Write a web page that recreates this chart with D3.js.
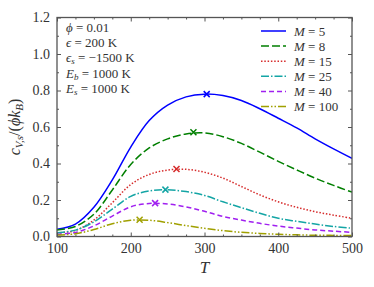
<!DOCTYPE html>
<html>
<head>
<meta charset="utf-8">
<script src="https://cdn.jsdelivr.net/npm/d3@7"></script>
<style>
  body { margin: 0; background: #fff; }
</style>
</head>
<body>
<div id="chart"></div>
<script>
// temperatures where curves were read
var temps = [100, 125, 150, 175, 200, 225, 250, 275, 300, 325, 350, 375, 400, 425, 450, 475, 500];

// heat capacity per chain length M
var m5   = [0.04, 0.068, 0.16, 0.31, 0.49, 0.635, 0.72, 0.765, 0.78, 0.772, 0.745, 0.70, 0.648, 0.595, 0.535, 0.48, 0.428];
var m8   = [0.035, 0.055, 0.122, 0.255, 0.395, 0.485, 0.535, 0.562, 0.568, 0.547, 0.51, 0.462, 0.412, 0.365, 0.32, 0.28, 0.243];
var m15  = [0.02, 0.033, 0.09, 0.185, 0.285, 0.34, 0.364, 0.368, 0.352, 0.32, 0.274, 0.228, 0.19, 0.16, 0.136, 0.117, 0.10];
var m25  = [0.02, 0.035, 0.08, 0.15, 0.22, 0.25, 0.256, 0.246, 0.225, 0.19, 0.158, 0.127, 0.10, 0.083, 0.068, 0.055, 0.045];
var m40  = [0.012, 0.022, 0.058, 0.112, 0.163, 0.181, 0.178, 0.162, 0.138, 0.11, 0.09, 0.072, 0.057, 0.046, 0.036, 0.029, 0.023];
var m100 = [0.008, 0.015, 0.038, 0.07, 0.089, 0.089, 0.076, 0.06, 0.045, 0.032, 0.023, 0.017, 0.012, 0.009, 0.007, 0.006, 0.005];

// maxima marked with x
var peakT = [303, 285, 262, 247, 233, 212];
var peakV = [0.78, 0.571, 0.37, 0.257, 0.183, 0.092];

var labels = ["5", "8", "15", "25", "40", "100"];
var xTicks = [100, 200, 300, 400, 500];
var yTicks = [0.0, 0.2, 0.4, 0.6, 0.8, 1.0, 1.2];

var colors = ["#0000ff", "#007f00", "#d62b2b", "#14a5a5", "#a020f0", "#a0a000"];
var dashes = ["none", "8,3", "1.5,1.8", "8,2,1.5,2", "5,3", "8,2,1.5,2,1.5,2"];

var series = [m5, m8, m15, m25, m40, m100];

var serif = "'Liberation Serif', 'DejaVu Serif', serif";

var width = 374, height = 287;
var margin = {top: 17.5, right: 22, bottom: 50.5, left: 57};

var svg = d3.select("#chart").append("svg")
  .attr("width", width)
  .attr("height", height)
  .style("font-family", serif);

var x = d3.scaleLinear().domain([100, 500]).range([margin.left, width - margin.right]);
var y = d3.scaleLinear().domain([0, 1.2]).range([height - margin.bottom, margin.top]);

svg.append("defs").append("clipPath").attr("id", "clip")
  .append("rect")
  .attr("x", x(100)).attr("y", y(1.2))
  .attr("width", x(500) - x(100)).attr("height", y(0) - y(1.2));

var plot = svg.append("g");

var line = d3.line()
  .x(function(d) { return x(d[0]); })
  .y(function(d) { return y(d[1]); })
  .curve(d3.curveCatmullRom.alpha(0.5));

series.forEach(function(vals, i) {
  var pts = temps.map(function(t, j) { return [t, vals[j]]; });

  plot.append("path")
    .attr("d", line(pts))
    .attr("clip-path", "url(#clip)")
    .style("fill", "none")
    .style("stroke", colors[i])
    .style("stroke-width", 1.5)
    .style("stroke-dasharray", dashes[i]);

  // x marker at the maximum
  var px = x(peakT[i]), py = y(peakV[i]), s = 3;
  plot.append("path")
    .attr("d", "M" + (px - s) + "," + (py - s) + "L" + (px + s) + "," + (py + s) +
               "M" + (px - s) + "," + (py + s) + "L" + (px + s) + "," + (py - s))
    .style("stroke", colors[i])
    .style("stroke-width", 1.5);
});

// axes, ticks pointing inward on all sides
var spine = "#555";
var tickSize = 4, minorSize = 2;
var xMinor = d3.range(125, 500, 25).filter(function(v) { return v % 100 !== 0; });
var yMinor = [0.1, 0.3, 0.5, 0.7, 0.9, 1.1];

var axBottom = svg.append("g").attr("transform", "translate(0," + y(0) + ")")
  .call(d3.axisBottom(x).tickValues(xTicks).tickSize(-tickSize).tickPadding(7).tickFormat(d3.format("d")));
var axBottomMinor = svg.append("g").attr("transform", "translate(0," + y(0) + ")")
  .call(d3.axisBottom(x).tickValues(xMinor).tickSize(-minorSize).tickFormat(""));
var axTop = svg.append("g").attr("transform", "translate(0," + y(1.2) + ")")
  .call(d3.axisTop(x).tickValues(xTicks).tickSize(-tickSize).tickFormat(""));
var axTopMinor = svg.append("g").attr("transform", "translate(0," + y(1.2) + ")")
  .call(d3.axisTop(x).tickValues(xMinor).tickSize(-minorSize).tickFormat(""));

var axLeft = svg.append("g").attr("transform", "translate(" + x(100) + ",0)")
  .call(d3.axisLeft(y).tickValues(yTicks).tickSize(-tickSize).tickPadding(7).tickFormat(d3.format(".1f")));
var axLeftMinor = svg.append("g").attr("transform", "translate(" + x(100) + ",0)")
  .call(d3.axisLeft(y).tickValues(yMinor).tickSize(-minorSize).tickFormat(""));
var axRight = svg.append("g").attr("transform", "translate(" + x(500) + ",0)")
  .call(d3.axisRight(y).tickValues(yTicks).tickSize(-tickSize).tickFormat(""));
var axRightMinor = svg.append("g").attr("transform", "translate(" + x(500) + ",0)")
  .call(d3.axisRight(y).tickValues(yMinor).tickSize(-minorSize).tickFormat(""));

[axBottom, axBottomMinor, axTop, axTopMinor, axLeft, axLeftMinor, axRight, axRightMinor].forEach(function(g) {
  g.attr("font-family", null).attr("font-size", null);
  g.select(".domain").remove();
  g.selectAll("line").style("stroke", spine).style("stroke-width", 1);
  g.selectAll("text")
    .style("font-family", serif)
    .style("font-size", "14px")
    .style("fill", "#333");
});

svg.append("rect")
  .attr("x", x(100)).attr("y", y(1.2))
  .attr("width", x(500) - x(100)).attr("height", y(0) - y(1.2))
  .style("fill", "none").style("stroke", spine).style("stroke-width", 1.3);

// axis labels
svg.append("text")
  .attr("x", x(300)).attr("y", 273)
  .attr("text-anchor", "middle")
  .style("font-family", serif)
  .style("font-size", "17px").style("font-style", "italic").style("fill", "#333")
  .text("T");

var ylab = svg.append("text")
  .attr("transform", "translate(20," + y(0.6) + ") rotate(-90)")
  .attr("text-anchor", "middle")
  .style("font-family", serif)
  .style("font-size", "16px").style("fill", "#333");
ylab.append("tspan").style("font-style", "italic").text("c");
ylab.append("tspan").attr("baseline-shift", "-25%").style("font-size", "11px").style("font-style", "italic").text("V,s");
ylab.append("tspan").text("/(");
ylab.append("tspan").style("font-style", "italic").text("ϕk");
ylab.append("tspan").attr("baseline-shift", "-25%").style("font-size", "11px").style("font-style", "italic").text("B");
ylab.append("tspan").text(")");

// parameter box
var params = [
  [["ϕ", "i"], [" = 0.01", ""]],
  [["ϵ", "i"], [" = 200 K", ""]],
  [["ϵ", "i"], ["s", "sub"], [" = −1500 K", ""]],
  [["E", "i"], ["b", "sub"], [" = 1000 K", ""]],
  [["E", "i"], ["s", "sub"], [" = 1000 K", ""]]
];
params.forEach(function(row, i) {
  var t = svg.append("text")
    .attr("x", 66).attr("y", 31.5 + i * 15.4)
    .style("font-family", serif)
    .style("font-size", "13px").style("fill", "#333");
  row.forEach(function(p) {
    var sp = t.append("tspan").text(p[0]);
    if (p[1] === "i") sp.style("font-style", "italic");
    if (p[1] === "sub") sp.attr("baseline-shift", "-25%").style("font-size", "9px").style("font-style", "italic");
  });
});

// legend
var legend = svg.append("g");
labels.forEach(function(lab, i) {
  var ly = 31 + i * 15.1;
  legend.append("line")
    .attr("x1", 261).attr("x2", 286).attr("y1", ly).attr("y2", ly)
    .style("stroke", colors[i]).style("stroke-width", 1.5)
    .style("stroke-dasharray", dashes[i]);
  var t = legend.append("text")
    .attr("x", 294).attr("y", ly + 4.5)
    .style("font-family", serif)
    .style("font-size", "13px").style("fill", "#333");
  t.append("tspan").style("font-style", "italic").text("M");
  t.append("tspan").text(" = " + lab);
});
</script>
</body>
</html>
